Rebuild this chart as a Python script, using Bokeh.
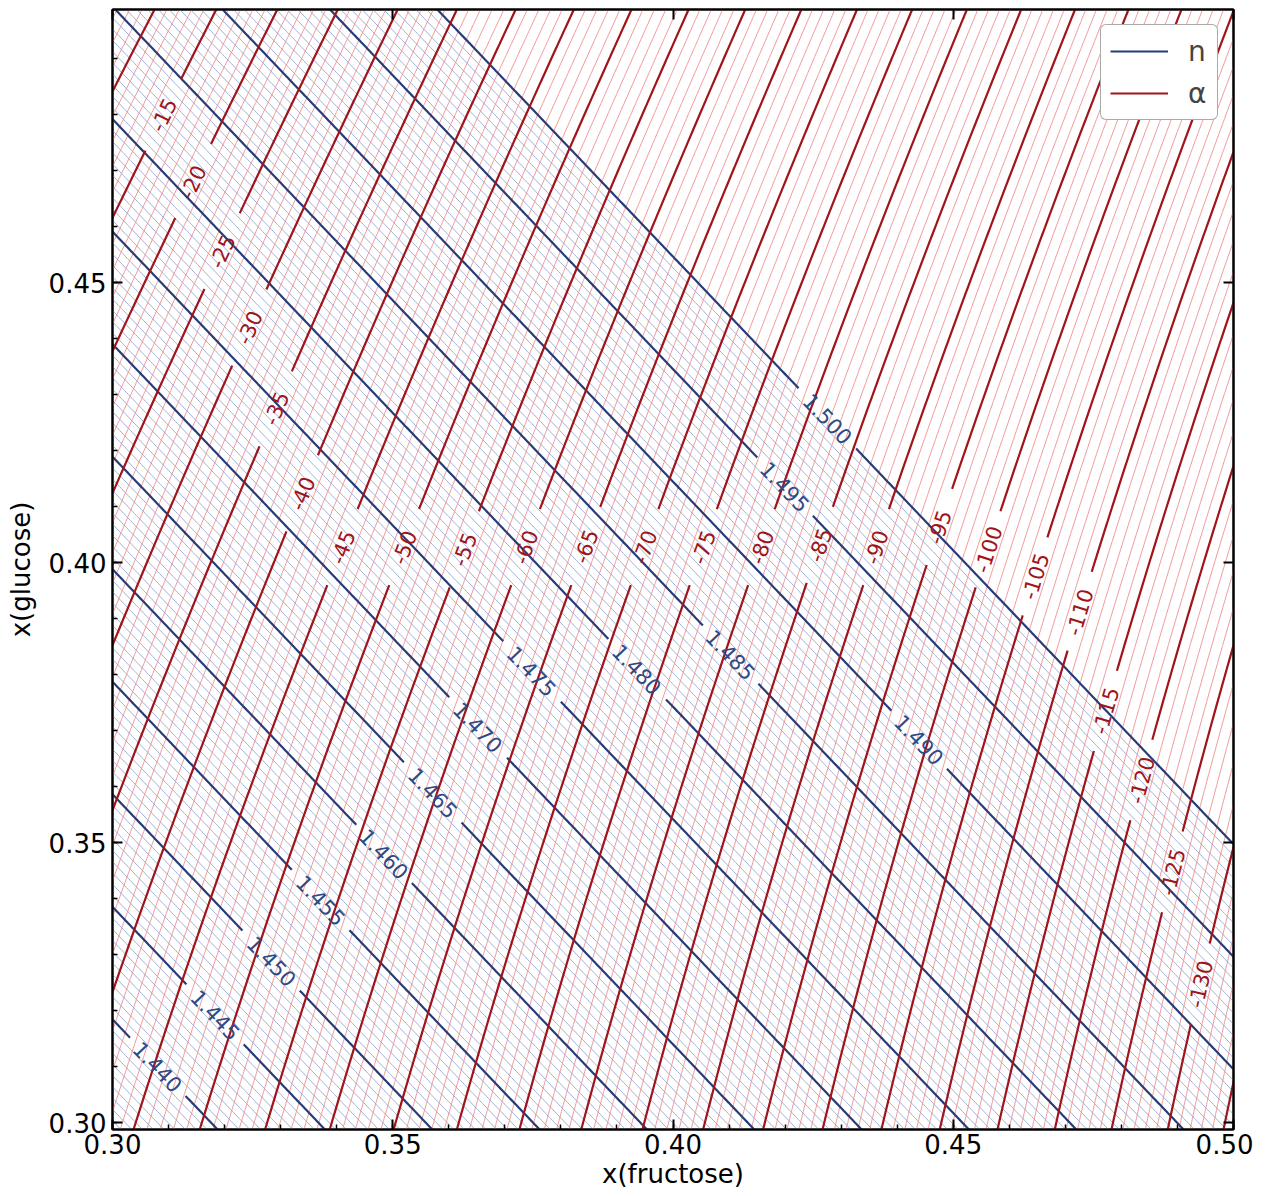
import numpy as np
import contourpy
from bokeh.plotting import figure
from bokeh.models import Range1d, LinearAxis, FixedTicker, Legend, LegendItem, NumeralTickFormatter
from bokeh.embed import file_html
from bokeh.resources import INLINE
from bokeh.core.properties import value

# ---------------- axes ----------------
X_MIN, X_MAX = 0.30, 0.50
Y_MIN, Y_MAX = 0.29875, 0.49875
X_MAJOR = [0.30, 0.35, 0.40, 0.45, 0.50]
Y_MAJOR = [0.30, 0.35, 0.40, 0.45]
X_MINOR = [0.30, 0.31, 0.32, 0.33, 0.34, 0.35, 0.36, 0.37, 0.38, 0.39, 0.40,
           0.41, 0.42, 0.43, 0.44, 0.45, 0.46, 0.47, 0.48, 0.49, 0.50]
Y_MINOR = [0.30, 0.31, 0.32, 0.33, 0.34, 0.35, 0.36, 0.37, 0.38, 0.39, 0.40,
           0.41, 0.42, 0.43, 0.44, 0.45, 0.46, 0.47, 0.48, 0.49]
X_LABEL = "x(fructose)"
Y_LABEL = "x(glucose)"

# ---------------- observed points on the refractive-index contours ----------------
N_OBS_LEVEL = [1.440, 1.445, 1.450, 1.455, 1.460, 1.465, 1.470, 1.475, 1.480, 1.485,
               1.485, 1.490, 1.495, 1.500, 1.500]
N_OBS_XF = [0.31798, 0.33779, 0.35691, 0.37607, 0.39522, 0.41490, 0.43363, 0.45281, 0.47194, 0.49140,
            0.30082, 0.31963, 0.33872, 0.35793, 0.50000]
N_OBS_XG = [0.29875, 0.29875, 0.29875, 0.29875, 0.29875, 0.29875, 0.29875, 0.29875, 0.29875, 0.29875,
            0.49875, 0.49875, 0.49875, 0.49875, 0.34960]

# labelled n contours (label centres)
N_LAB_LEVEL = [1.440, 1.445, 1.450, 1.455, 1.460, 1.465, 1.470, 1.475, 1.480, 1.485, 1.490, 1.495, 1.500]
N_LAB_XF = [0.30821, 0.31838, 0.32855, 0.33747, 0.34871, 0.35709, 0.36530, 0.37458, 0.39384, 0.41026,
            0.44380, 0.42007, 0.42721]
N_LAB_XG = [0.30982, 0.31929, 0.32911, 0.33982, 0.34786, 0.35893, 0.37054, 0.38036, 0.38125, 0.38357,
            0.36839, 0.41339, 0.42554]

# ---------------- observed points on the optical-rotation contours ----------------
A_OBS_LEVEL = [-45, -50, -55, -60, -65, -70, -75, -80, -85, -90, -95, -100, -105, -110, -115, -120, -125, -130,
               -10, -15, -20, -25, -30, -35, -40, -45, -50,
               -10, -15, -25, -30]
A_OBS_XF = [0.30478, 0.31600, 0.32723, 0.33845, 0.34955, 0.36070, 0.37178, 0.38268, 0.39390, 0.40448,
            0.41536, 0.42596, 0.43702, 0.44778, 0.45852, 0.46926, 0.48000, 0.49006,
            0.30642, 0.31766, 0.32855, 0.33979, 0.35067, 0.36191, 0.37279, 0.38332, 0.39420,
            0.30000, 0.30000, 0.30000, 0.30000]
A_OBS_XG = [0.29875] * 18 + [0.49875] * 9 + [0.48625, 0.46179, 0.41125, 0.38214]

# labelled alpha contours (label centres)
A_LAB_LEVEL = [-15, -20, -25, -30, -35, -40, -45, -50, -55, -60, -65, -70, -75, -80, -85, -90, -95,
               -100, -105, -110, -115, -120, -125, -130]
A_LAB_XF = [0.30856, 0.31427, 0.31963, 0.32480, 0.32962, 0.33390, 0.34157, 0.35263, 0.36298, 0.37404,
            0.38475, 0.39509, 0.40580, 0.41615, 0.42632, 0.43648, 0.44683, 0.45575, 0.46414, 0.47110,
            0.47627, 0.48252, 0.48840, 0.49411]
A_LAB_XG = [0.48036, 0.46804, 0.45536, 0.44196, 0.42732, 0.41214, 0.40268, 0.40232, 0.40232, 0.40268,
            0.40268, 0.40268, 0.40268, 0.40268, 0.40321, 0.40268, 0.40643, 0.40268, 0.39786, 0.39161,
            0.37375, 0.36125, 0.34482, 0.32464]

N_THICK = [1.435, 1.440, 1.445, 1.450, 1.455, 1.460, 1.465, 1.470, 1.475, 1.480, 1.485, 1.490, 1.495, 1.500]
N_THIN_STEP = 0.0005
N_THIN_RANGE = (1.425, 1.500)
A_THICK_STEP = 5
A_THIN_STEP = 1
A_RANGE = (-145, 0)

# ---------------- styling ----------------
FRAME_W, FRAME_H = 1121, 1120
BLUE = "#273d7a"
RED = "#a0141a"
BLUE_THIN = "#8da5d4"
RED_THIN = "#f08c8c"
FONT = "DejaVu Sans"
GAP_PX = 40

SX = FRAME_W / (X_MAX - X_MIN)
SY = FRAME_H / (Y_MAX - Y_MIN)


def design_lin(u, v):
    return np.column_stack([np.ones_like(u), u, v])


def design_quad(u, v):
    return np.column_stack([np.ones_like(u), u, v, u * u, u * v, v * v])


# fit smooth fields through the read points
nu = np.array(N_OBS_XF + N_LAB_XF) - 0.4
nv = np.array(N_OBS_XG + N_LAB_XG) - 0.4
nval = np.array(N_OBS_LEVEL + N_LAB_LEVEL)
n_coef = np.linalg.lstsq(design_lin(nu, nv), nval, rcond=None)[0]

au = np.array(A_OBS_XF + A_LAB_XF) - 0.4
av = np.array(A_OBS_XG + A_LAB_XG) - 0.4
aval = np.array(A_OBS_LEVEL + A_LAB_LEVEL, dtype=float)
a_coef = np.linalg.lstsq(design_quad(au, av), aval, rcond=None)[0]

gx = np.linspace(X_MIN, X_MAX, 501)
gy = np.linspace(Y_MIN, Y_MAX, 501)
GX, GY = np.meshgrid(gx, gy)
U, V = GX.ravel() - 0.4, GY.ravel() - 0.4
NZ = (design_lin(U, V) @ n_coef).reshape(GX.shape)
AZ = (design_quad(U, V) @ a_coef).reshape(GX.shape)

n_gen = contourpy.contour_generator(gx, gy, NZ, line_type="Separate")
a_gen = contourpy.contour_generator(gx, gy, AZ, line_type="Separate")


def lines_of(gen, levels):
    xs, ys = [], []
    for lv in levels:
        for ln in gen.lines(lv):
            if len(ln) > 1:
                xs.append(ln[:, 0].tolist())
                ys.append(ln[:, 1].tolist())
    return xs, ys


def labelled_lines(gen, levels, lab_levels, lab_x, lab_y, fmt):
    xs, ys = [], []
    tx, ty, tt, ta = [], [], [], []
    lab = {round(l, 4): (x, y) for l, x, y in zip(lab_levels, lab_x, lab_y)}
    for lv in levels:
        lines = [ln for ln in gen.lines(lv) if len(ln) > 1]
        if not lines:
            continue
        key = round(lv, 4)
        cut = None
        if key in lab:
            lx, ly = lab[key]
            best = None
            for li, ln in enumerate(lines):
                d = np.hypot((ln[:, 0] - lx) * SX, (ln[:, 1] - ly) * SY)
                k = int(np.argmin(d))
                if best is None or d[k] < best[0]:
                    best = (d[k], li, k)
            _, li, k = best
            ln = lines[li]
            cx, cy = ln[k]
            k0, k1 = max(k - 5, 0), min(k + 5, len(ln) - 1)
            ang = np.arctan2((ln[k1, 1] - ln[k0, 1]) * SY, (ln[k1, 0] - ln[k0, 0]) * SX)
            if ang > np.pi / 2:
                ang -= np.pi
            if ang < -np.pi / 2:
                ang += np.pi
            tx.append(cx); ty.append(cy); tt.append(fmt(lv)); ta.append(ang)
            cut = (li, cx, cy)
        for li, ln in enumerate(lines):
            if cut is not None and li == cut[0]:
                d = np.hypot((ln[:, 0] - cut[1]) * SX, (ln[:, 1] - cut[2]) * SY)
                keep = d > GAP_PX
                start = None
                for i, kp in enumerate(list(keep) + [False]):
                    if kp and start is None:
                        start = i
                    elif not kp and start is not None:
                        if i - start > 1:
                            xs.append(ln[start:i, 0].tolist()); ys.append(ln[start:i, 1].tolist())
                        start = None
            else:
                xs.append(ln[:, 0].tolist()); ys.append(ln[:, 1].tolist())
    return xs, ys, tx, ty, tt, ta


p = figure(frame_width=FRAME_W, frame_height=FRAME_H,
           x_range=Range1d(X_MIN, X_MAX), y_range=Range1d(Y_MIN, Y_MAX),
           output_backend="svg", toolbar_location=None,
           min_border_left=112, min_border_right=20, min_border_top=9, min_border_bottom=60,
           x_axis_label=X_LABEL, y_axis_label=Y_LABEL)
p.xgrid.visible = False
p.ygrid.visible = False
p.outline_line_color = "black"
p.outline_line_width = 2
p.background_fill_color = "white"

# thin lines
n_thin_levels = [lv for lv in np.arange(N_THIN_RANGE[0], N_THIN_RANGE[1] + 1e-9, N_THIN_STEP)
                 if abs(lv / 0.005 - round(lv / 0.005)) > 1e-6]
a_thin_levels = [lv for lv in np.arange(A_RANGE[0], A_RANGE[1] + 1e-9, A_THIN_STEP) if lv % A_THICK_STEP != 0]
bx, by = lines_of(n_gen, n_thin_levels)
p.multi_line(bx, by, line_color=BLUE_THIN, line_width=1.0, line_alpha=0.9)
rx, ry = lines_of(a_gen, a_thin_levels)
p.multi_line(rx, ry, line_color=RED_THIN, line_width=1.0, line_alpha=0.9)

# thick lines with label gaps
nxs, nys, ntx, nty, ntt, nta = labelled_lines(n_gen, N_THICK, N_LAB_LEVEL, N_LAB_XF, N_LAB_XG,
                                              lambda v: "%.3f" % v)
r_n = p.multi_line(nxs, nys, line_color=BLUE, line_width=2.2)
a_thick_levels = list(range(A_RANGE[0], A_RANGE[1] + 1, A_THICK_STEP))
axs, ays, atx, aty, att, ata = labelled_lines(a_gen, a_thick_levels, A_LAB_LEVEL, A_LAB_XF, A_LAB_XG,
                                              lambda v: "-%d" % abs(v) if v < 0 else "%d" % v)
r_a = p.multi_line(axs, ays, line_color=RED, line_width=2.2)

p.text(x=ntx, y=nty, text=ntt, angle=nta, text_align="center", text_baseline="middle",
       text_font=value(FONT), text_font_size="21px", text_color="#2d4a86")
p.text(x=atx, y=aty, text=att, angle=ata, text_align="center", text_baseline="middle",
       text_font=value(FONT), text_font_size="21px", text_color=RED)

# axes styling
for ax in (p.xaxis[0], p.yaxis[0]):
    ax.axis_line_width = 2
    ax.major_tick_in = 10
    ax.major_tick_out = 0
    ax.minor_tick_in = 5
    ax.minor_tick_out = 0
    ax.major_tick_line_width = 2
    ax.minor_tick_line_width = 1.5
    ax.major_label_text_font = FONT
    ax.major_label_text_font_size = "26px"
    ax.major_label_text_color = "black"
    ax.axis_label_text_font = FONT
    ax.axis_label_text_font_size = "26px"
    ax.axis_label_text_font_style = "normal"
    ax.axis_label_text_color = "black"
    ax.formatter = NumeralTickFormatter(format="0.00")
p.xaxis[0].ticker = FixedTicker(ticks=X_MAJOR, minor_ticks=X_MINOR)
p.yaxis[0].ticker = FixedTicker(ticks=Y_MAJOR, minor_ticks=Y_MINOR)
p.xaxis[0].axis_label_standoff = 2
p.yaxis[0].axis_label_standoff = 10
p.xaxis[0].major_label_standoff = 4
p.yaxis[0].major_label_standoff = 6

for side, ticks in (("above", X_MAJOR), ("right", Y_MAJOR)):
    ax = LinearAxis(ticker=FixedTicker(ticks=ticks, minor_ticks=[]),
                    major_label_text_font_size="1px", major_label_text_color=None,
                    major_label_text_alpha=0,
                    major_tick_in=10, major_tick_out=0, minor_tick_in=0, minor_tick_out=0,
                    major_tick_line_width=2, axis_line_width=2, major_label_standoff=0)
    p.add_layout(ax, side)

legend = Legend(items=[LegendItem(label="n", renderers=[r_n]), LegendItem(label="α", renderers=[r_a])],
                location="top_right")
legend.label_text_font = FONT
legend.label_text_font_size = "28px"
legend.glyph_width = 58
legend.glyph_height = 34
legend.label_standoff = 20
legend.padding = 9
legend.spacing = 8
legend.margin = 15
legend.border_line_color = "#555555"
legend.border_line_width = 1.5
legend.border_radius = 6
legend.background_fill_alpha = 1.0
p.add_layout(legend)

open("out.html", "w").write(file_html(p, INLINE))
